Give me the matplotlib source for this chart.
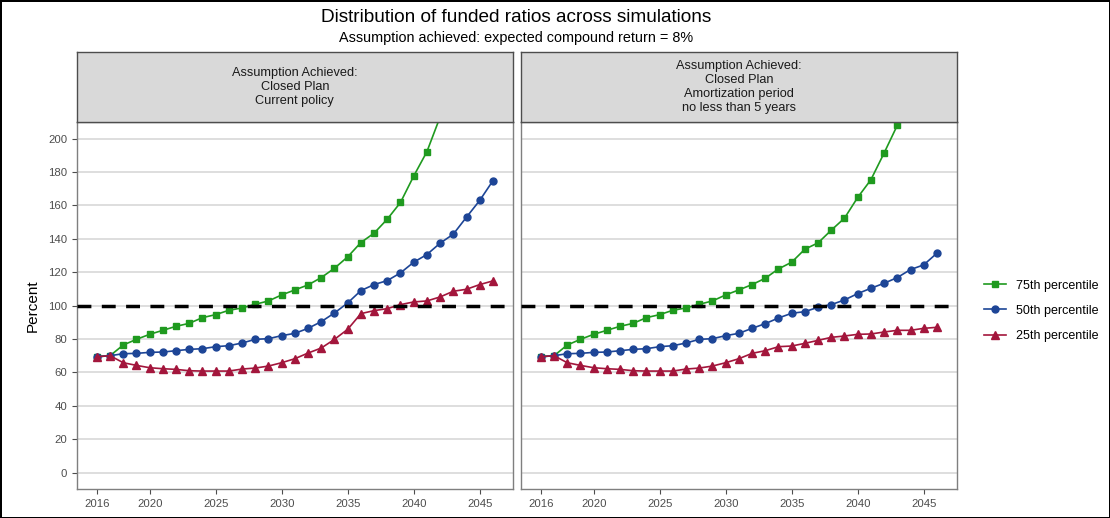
import matplotlib.pyplot as plt
import numpy as np

plt.rcParams["font.family"] = ["Liberation Sans", "DejaVu Sans"]

years = list(range(2016, 2047))

# Panel 1: current policy
p75_current = [69.4, 70, 76.4, 79.8, 82.8, 85.2, 87.6, 89.4, 92.8, 94.6, 97.2, 98.6, 100.8, 102.8,
               106.4, 109.4, 112.4, 116.8, 122.4, 129.2, 137.8, 143.4, 151.8, 161.8, 177.6, 192.2,
               213, 236, 262, 292, 325]
p50_current = [69.4, 70, 71.2, 71.4, 72, 72.2, 73, 73.8, 74.2, 75.4, 76, 77.6, 79.8, 80.2, 82,
               83.4, 86.4, 90.4, 95.6, 101.6, 109, 112.6, 115, 119.6, 126, 130.6, 137.4, 142.8,
               153, 163, 174.8]
p25_current = [69.4, 70, 65.8, 64.2, 62.8, 62.2, 61.8, 61, 60.8, 60.8, 60.8, 62, 62.6, 63.8, 65.8,
               68.2, 71.6, 74.6, 79.8, 85.8, 95.2, 97, 98.2, 100.6, 102.2, 102.8, 105.2, 108.6,
               109.8, 112.6, 114.8]

# Panel 2: amortization period no less than 5 years
p75_amort = [69.4, 70, 76.4, 79.8, 82.8, 85.2, 87.6, 89.4, 92.8, 94.6, 97.2, 98.6, 100.8, 102.8,
             106.4, 109.4, 112.6, 116.4, 122, 126, 133.8, 137.6, 145.2, 152.4, 164.8, 175.4,
             191.4, 208, 232, 258, 288]
p50_amort = [69.4, 70, 71.2, 71.4, 72, 72.2, 73, 73.8, 74.2, 75.4, 76, 77.6, 79.8, 80.2, 82,
             83.4, 86.4, 89.2, 92.6, 95.4, 96.4, 99, 100.6, 103.4, 107.2, 110.4, 113.4, 116.8,
             121.6, 124.4, 131.4]
p25_amort = [69.4, 70, 65.8, 64.2, 62.8, 62.2, 61.8, 61, 60.8, 60.8, 60.8, 62, 62.6, 63.8, 65.8,
             68.2, 71.4, 73, 75.4, 75.8, 77.4, 79.2, 81, 81.8, 82.8, 83, 84.2, 85.2, 85.2, 86.4, 87]

strip_labels = [
    "Assumption Achieved:\nClosed Plan\nCurrent policy",
    "Assumption Achieved:\nClosed Plan\nAmortization period\nno less than 5 years",
]
series_labels = ["75th percentile", "50th percentile", "25th percentile"]
x_ticks = [2016, 2020, 2025, 2030, 2035, 2040, 2045]
y_ticks = list(range(0, 201, 20))

GREEN = "#1f9a1f"
BLUE = "#1d4596"
RED = "#a3163c"
TEXT = "#4d4d4d"

fig = plt.figure(figsize=(11.1, 5.18), dpi=100)
fig.patch.set_edgecolor("black")
fig.patch.set_linewidth(2)

panels = [
    (0.0694, [p75_current, p50_current, p25_current]),
    (0.4694, [p75_amort, p50_amort, p25_amort]),
]
width = 0.3925
bottom, height = 0.0555, 0.709
strip_h = 0.135

for i, (left, series) in enumerate(panels):
    ax = fig.add_axes([left, bottom, width, height])
    for vals, col, mk, ms, lab in zip(series, [GREEN, BLUE, RED], ["s", "o", "^"], [4.6, 5.0, 5.8],
                                      series_labels):
        ax.plot(years, vals, color=col, marker=mk, markersize=ms, lw=1.2, label=lab,
                clip_on=True, zorder=3)
    ax.axhline(100, color="black", ls=(0, (4, 3)), lw=2.5, zorder=4)
    ax.set_xlim(2014.5, 2047.5)
    ax.set_ylim(-10, 210)
    ax.set_yticks(y_ticks)
    ax.set_xticks(x_ticks)
    ax.yaxis.grid(True, color="#d4d4d4", lw=1.1)
    ax.set_axisbelow(True)
    ax.tick_params(colors=TEXT, labelsize=8.2, length=3.5, labelcolor=TEXT)
    for s in ax.spines.values():
        s.set_color("#7f7f7f")
        s.set_linewidth(1)
    if i == 0:
        ax.set_ylabel("Percent", fontsize=11, color="black", labelpad=6)
        handles, labels = ax.get_legend_handles_labels()
    else:
        ax.set_yticklabels([])
        ax.tick_params(axis="y", length=0)

    sax = fig.add_axes([left, bottom + height, width, strip_h])
    sax.set_facecolor("#d9d9d9")
    sax.set_xticks([])
    sax.set_yticks([])
    for s in sax.spines.values():
        s.set_color("#4d4d4d")
        s.set_linewidth(1)
    sax.text(0.5, 0.5, strip_labels[i], ha="center", va="center", fontsize=9.2,
             color="#1a1a1a", linespacing=1.2, transform=sax.transAxes)

fig.legend(handles, labels, loc="center left", bbox_to_anchor=(0.876, 0.40), frameon=False,
           fontsize=9, handlelength=1.8, labelspacing=1.05)

fig.text(0.465, 0.966, "Distribution of funded ratios across simulations", ha="center",
         va="center", fontsize=13.7)
fig.text(0.465, 0.926, "Assumption achieved: expected compound return = 8%", ha="center",
         va="center", fontsize=10.4)

fig.savefig("out.png", dpi=100, edgecolor=fig.get_edgecolor())
